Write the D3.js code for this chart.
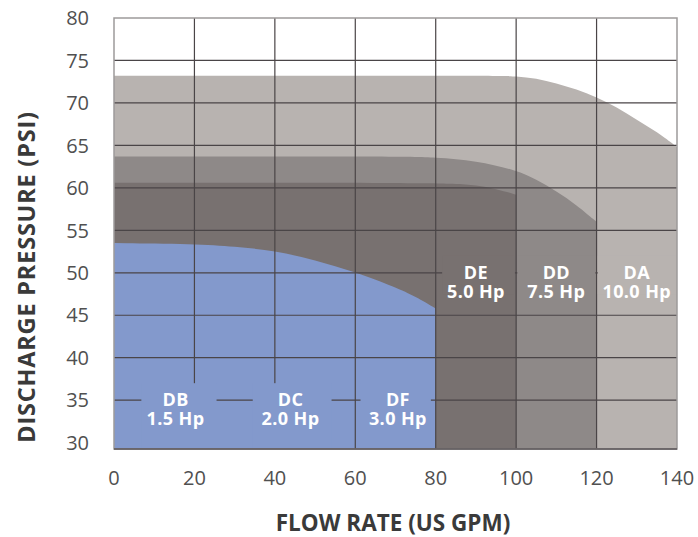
<!DOCTYPE html>
<html>
<head>
<meta charset="utf-8">
<script src="https://cdn.jsdelivr.net/npm/d3@7"></script>
<style>
  body { margin: 0; background: #fff; }
  text { font-family: "Open Sans", Lato, sans-serif; }
</style>
</head>
<body>
<div id="chart"></div>
<script>
// pump curves: [flow (US GPM), pressure (PSI)]
const curveDA = [[0,73.2],[95,73.2],[100,73.15],[105,72.9],[110,72.3],[115,71.6],[120,70.7],[125,69.5],[130,68.0],[135,66.6],[140,64.8]];
const curveDD = [[0,63.7],[70,63.7],[80,63.6],[90,63.2],[100,62.1],[105,61.0],[110,59.6],[115,58.0],[120,56.0]];
const curveDE = [[0,60.6],[75,60.6],[85,60.5],[90,60.3],[95,59.9],[100,59.2]];
const curveDB = [[0,53.5],[20,53.4],[30,53.1],[40,52.6],[50,51.5],[60,50.1],[70,48.3],[75,47.2],[80,45.8]];

const models = ["DA", "DD", "DE", "DB"];
const modelColors = ["#b8b3b0", "#8e8988", "#787170", "#8399cc"];

const labelNames = ["DB", "DC", "DF", "DE", "DD", "DA"];
const labelPower = ["1.5 Hp", "2.0 Hp", "3.0 Hp", "5.0 Hp", "7.5 Hp", "10.0 Hp"];

const xTicks = [0, 20, 40, 60, 80, 100, 120, 140];
const yTicks = [30, 35, 40, 45, 50, 55, 60, 65, 70, 75, 80];

const W = 698, H = 537;
const plot = { left: 114, right: 677, top: 18, bottom: 449 };

const svg = d3.select("#chart").append("svg")
    .attr("width", W).attr("height", H);

const x = d3.scaleLinear().domain([0, 140]).range([plot.left, plot.right]);
const y = d3.scaleLinear().domain([29.25, 80]).range([plot.bottom, plot.top]);

// filled areas, largest pump first
const area = d3.area()
    .x(d => x(d[0]))
    .y0(plot.bottom)
    .y1(d => y(d[1]))
    .curve(d3.curveBasis);

const curves = [curveDA, curveDD, curveDE, curveDB];
svg.selectAll(".band")
    .data(curves)
    .join("path")
    .attr("class", "band")
    .attr("fill", (d, i) => modelColors[i])
    .attr("d", area);

// grid
const gridColor = "#4a4547";
svg.append("g").selectAll("line")
    .data(yTicks.filter(v => v > 30 && v < 80))
    .join("line")
    .attr("x1", plot.left).attr("x2", plot.right)
    .attr("y1", d => y(d)).attr("y2", d => y(d))
    .attr("stroke", gridColor).attr("stroke-width", 1.2);

svg.append("g").selectAll("line")
    .data(xTicks.filter(v => v > 0 && v < 140))
    .join("line")
    .attr("y1", plot.top).attr("y2", plot.bottom)
    .attr("x1", d => x(d)).attr("x2", d => x(d))
    .attr("stroke", gridColor).attr("stroke-width", 1.2);

// knock-out boxes behind the labels
const boxes = [
    { x0: 6.8, x1: 25.5, y0: 29.25, y1: 37.0, c: modelColors[3] },
    { x0: 34.5, x1: 54.1, y0: 29.25, y1: 37.0, c: modelColors[3] },
    { x0: 61.3, x1: 78.8, y0: 29.25, y1: 37.0, c: modelColors[3] },
    { x0: 81.6, x1: 99.7, y0: 47.5, y1: 52.0, c: modelColors[2] },
    { x0: 100.3, x1: 119.7, y0: 47.5, y1: 52.0, c: modelColors[1] },
    { x0: 120.3, x1: 140, y0: 47.5, y1: 52.0, c: modelColors[0] }
];
svg.append("g").selectAll("rect")
    .data(boxes)
    .join("rect")
    .attr("x", d => x(d.x0))
    .attr("width", d => x(d.x1) - x(d.x0))
    .attr("y", d => y(d.y1))
    .attr("height", d => y(d.y0) - y(d.y1))
    .attr("fill", d => d.c);

// frame
svg.append("rect")
    .attr("x", plot.left).attr("y", plot.top)
    .attr("width", plot.right - plot.left).attr("height", plot.bottom - plot.top)
    .attr("fill", "none").attr("stroke", "#9d9a9a").attr("stroke-width", 1.5);
svg.append("line")
    .attr("x1", plot.left).attr("x2", plot.right)
    .attr("y1", plot.bottom).attr("y2", plot.bottom)
    .attr("stroke", "#5a5557").attr("stroke-width", 1.5);

// model labels (name line, then power line)
const labelPos = [[15.3, 34.35], [43.9, 34.35], [70.6, 34.35], [90.0, 49.25], [110, 49.25], [130, 49.25]];
const labG = svg.append("g")
    .attr("fill", "#fff")
    .attr("font-size", 18)
    .attr("font-weight", 700)
    .attr("text-anchor", "middle")
    .attr("letter-spacing", 0.4);
labG.selectAll(".name")
    .data(labelNames)
    .join("text")
    .attr("class", "name")
    .attr("x", (d, i) => x(labelPos[i][0]))
    .attr("y", (d, i) => y(labelPos[i][1]))
    .text(d => d);
labG.selectAll(".power")
    .data(labelPower)
    .join("text")
    .attr("class", "power")
    .attr("x", (d, i) => x(labelPos[i][0]))
    .attr("y", (d, i) => y(labelPos[i][1]) + 19.3)
    .text(d => d);

// tick labels
svg.append("g").selectAll("text")
    .data(yTicks)
    .join("text")
    .attr("x", 89)
    .attr("y", d => y(d))
    .attr("dy", "0.36em")
    .attr("text-anchor", "end")
    .attr("fill", "#505050")
    .attr("font-size", 20)
    .text(d => d);

svg.append("g").selectAll("text")
    .data(xTicks)
    .join("text")
    .attr("x", d => x(d))
    .attr("y", 485)
    .attr("text-anchor", "middle")
    .attr("fill", "#505050")
    .attr("font-size", 20)
    .text(d => d);

// axis titles
svg.append("text")
    .attr("x", 393).attr("y", 531)
    .attr("text-anchor", "middle")
    .attr("fill", "#3a3a3a")
    .attr("font-size", 22.5)
    .attr("font-weight", 700)
    .text("FLOW RATE (US GPM)");

svg.append("text")
    .attr("transform", "translate(35,277) rotate(-90)")
    .attr("text-anchor", "middle")
    .attr("fill", "#3a3a3a")
    .attr("font-size", 23.5)
    .attr("font-weight", 700)
    .attr("letter-spacing", 0.8)
    .text("DISCHARGE PRESSURE (PSI)");
</script>
</body>
</html>
